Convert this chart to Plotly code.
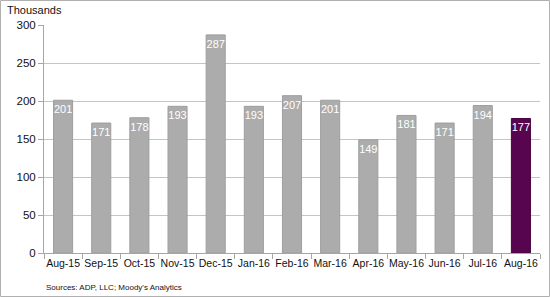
import plotly.graph_objects as go

months = ["Aug-15", "Sep-15", "Oct-15", "Nov-15", "Dec-15", "Jan-16", "Feb-16",
          "Mar-16", "Apr-16", "May-16", "Jun-16", "Jul-16", "Aug-16"]
values = [201, 171, 178, 193, 287, 193, 207, 201, 149, 181, 171, 194, 177]
y_ticks = [0, 50, 100, 150, 200, 250, 300]

colors = ["#acacac"] * (len(months) - 1) + ["#58054f"]
line_colors = ["#9e9e9e"] * (len(months) - 1) + ["#4a0442"]

fig = go.Figure()
fig.add_trace(go.Bar(
    x=months, y=values,
    marker=dict(color=colors, line=dict(color=line_colors, width=1)),
    width=0.5,
    text=[str(v) for v in values],
    textposition="inside",
    insidetextanchor="end",
    textangle=0,
    constraintext="none",
    textfont=dict(family="Arial, Liberation Sans", size=11, color="white"),
    hoverinfo="skip",
))

L, R, T, B = 44, 10, 25, 44
W, H = 550, 297
pw, ph = W - L - R, H - T - B

fig.update_layout(
    width=W, height=H,
    margin=dict(l=L, r=R, t=T, b=B, autoexpand=False),
    paper_bgcolor="white", plot_bgcolor="white",
    showlegend=False,
    bargap=0.5,
    font=dict(family="Arial, Liberation Sans", size=11, color="#111111"),
    xaxis=dict(
        showline=True, linecolor="#a6a6a6", linewidth=1,
        ticks="outside", tickson="boundaries", ticklen=5, tickcolor="#a6a6a6",
        tickfont=dict(size=10.5, color="#111111"), tickangle=0,
        showgrid=False, automargin=False,
    ),
    yaxis=dict(
        range=[0, 300], tickvals=y_ticks,
        showline=True, linecolor="#a6a6a6", linewidth=1,
        ticks="outside", ticklen=5, tickcolor="#a6a6a6",
        showgrid=True, gridcolor="#c4c4c4", gridwidth=1,
        zeroline=False, automargin=False,
        tickfont=dict(size=11.5, color="#111111"),
    ),
    annotations=[
        dict(text="Thousands", xref="paper", yref="paper",
             x=-(L - 5) / pw, y=1 + (T - 10) / ph, xanchor="left", yanchor="middle",
             showarrow=False, font=dict(size=11, color="#111111")),
        dict(text="Sources: ADP, LLC; Moody's Analytics", xref="paper", yref="paper",
             x=0, y=-(287 - (H - B)) / ph, xanchor="left", yanchor="middle",
             showarrow=False, font=dict(size=8, color="#111111")),
    ],
    shapes=[
        dict(type="rect", xref="paper", yref="paper",
             x0=(0.5 - L) / pw, x1=(W - 0.5 - L) / pw,
             y0=((H - B) - (H - 0.5)) / ph, y1=((H - B) - 0.5) / ph,
             line=dict(color="#b0b0b0", width=1), layer="below"),
    ],
)

fig.write_html("out.html")
